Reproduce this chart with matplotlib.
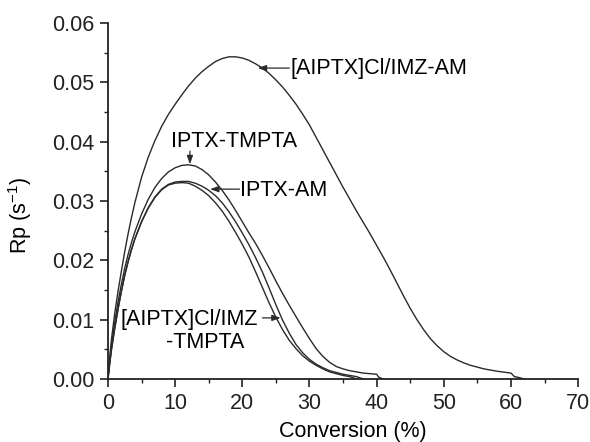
import matplotlib
matplotlib.use('Agg')
import matplotlib.pyplot as plt
from matplotlib.ticker import MultipleLocator

# ── Data ────────────────────────────────────────────────────────────────
imz_am_x = [0, 0.2, 0.5, 1, 1.5, 2, 2.5, 3, 3.5, 4, 5, 6, 7, 8, 9, 10, 11, 12,
            13, 14, 15, 16, 17, 18, 19, 20, 21, 22, 23, 24, 25, 26, 27, 28, 29,
            30, 31, 32, 33, 34, 35, 36, 37, 38, 39, 40, 41, 42, 43, 44, 45, 46,
            47, 48, 49, 50, 51, 52, 53, 54, 55, 56, 58, 60, 60.5, 61, 62]
imz_am_y = [0, 0.003, 0.0065, 0.011, 0.0148, 0.0182, 0.0215, 0.0245, 0.0272,
            0.0297, 0.0340, 0.0374, 0.0402, 0.0426, 0.0446, 0.0463, 0.0479,
            0.0494, 0.0507, 0.0518, 0.0527, 0.0535, 0.0540, 0.0543, 0.0543,
            0.0541, 0.0537, 0.0531, 0.0524, 0.0515, 0.0504, 0.0492, 0.0478,
            0.0463, 0.0446, 0.0428, 0.0407, 0.0386, 0.0365, 0.0344, 0.0323,
            0.0303, 0.0283, 0.0264, 0.0245, 0.0225, 0.0205, 0.0184, 0.0162,
            0.0140, 0.0119, 0.0100, 0.0083, 0.0068, 0.0056, 0.0046, 0.0038,
            0.0032, 0.0027, 0.0023, 0.0020, 0.0017, 0.0013, 0.0010, 0.0004,
            0.0003, 0]

iptx_tmpta_x = [0, 0.2, 0.5, 1, 1.5, 2, 2.5, 3, 3.5, 4, 5, 6, 7, 8, 9, 10, 11,
                12, 13, 14, 15, 16, 17, 18, 19, 20, 21, 22, 23, 24, 25, 26, 27,
                28, 29, 30, 31, 32, 33, 34, 35, 36, 37, 38, 39, 40, 40.3, 41]
iptx_tmpta_y = [0, 0.0025, 0.0055, 0.0095, 0.013, 0.016, 0.0187, 0.021, 0.0230,
                0.0248, 0.0278, 0.0303, 0.0323, 0.0338, 0.0349, 0.0356, 0.0360,
                0.0361, 0.0359, 0.0353, 0.0344, 0.0332, 0.0318, 0.0302, 0.0284,
                0.0265, 0.0246, 0.0228, 0.0208, 0.0187, 0.0165, 0.0144, 0.0124,
                0.0105, 0.0086, 0.0068, 0.0051, 0.0038, 0.0028, 0.0021, 0.0017,
                0.0014, 0.0012, 0.0010, 0.0009, 0.0008, 0.0003, 0]

iptx_am_x = [0, 0.2, 0.5, 1, 1.5, 2, 2.5, 3, 3.5, 4, 5, 6, 7, 8, 9, 10, 11, 12,
             13, 14, 15, 16, 17, 18, 19, 20, 21, 22, 23, 24, 25, 26, 27, 28, 29,
             30, 31, 32, 33, 34, 35, 36, 37, 38]
iptx_am_y = [0, 0.002, 0.0048, 0.0085, 0.0118, 0.0148, 0.0175, 0.0198, 0.0218,
             0.0236, 0.0265, 0.0289, 0.0307, 0.0320, 0.0328, 0.0332, 0.0333,
             0.0333, 0.0330, 0.0325, 0.0318, 0.0309, 0.0297, 0.0282, 0.0265,
             0.0246, 0.0226, 0.0204, 0.0180, 0.0153, 0.0125, 0.0099, 0.0077,
             0.0058, 0.0044, 0.0033, 0.0025, 0.0019, 0.0014, 0.0011, 0.0008,
             0.0006, 0.0004, 0]

imz_tmpta_x = [0, 0.2, 0.5, 1, 1.5, 2, 2.5, 3, 3.5, 4, 5, 6, 7, 8, 9, 10, 11, 12,
               13, 14, 15, 16, 17, 18, 19, 20, 21, 22, 23, 24, 25, 26, 27, 28,
               29, 30, 31, 32, 33, 34, 35, 36, 37]
imz_tmpta_y = [0, 0.002, 0.0048, 0.0085, 0.0118, 0.0148, 0.0175, 0.0198, 0.0218,
               0.0236, 0.0265, 0.0288, 0.0306, 0.0319, 0.0327, 0.0330, 0.0331,
               0.0330, 0.0325, 0.0318, 0.0309, 0.0297, 0.0283, 0.0266, 0.0247,
               0.0227, 0.0205, 0.0180, 0.0154, 0.0128, 0.0104, 0.0083, 0.0065,
               0.0051, 0.0039, 0.0030, 0.0023, 0.0017, 0.0012, 0.0009, 0.0006,
               0.0004, 0]

plt.rcParams['font.family'] = ['Liberation Sans', 'DejaVu Sans']
plt.rcParams['mathtext.default'] = 'regular'
FS = 15.5
LINE = '#2a2a2a'

fig = plt.figure(figsize=(5.9, 4.42), dpi=100)
ax = fig.add_axes([0.183, 0.1425, 0.797, 0.8055])

for xs, ys in [(imz_am_x, imz_am_y), (iptx_tmpta_x, iptx_tmpta_y),
               (iptx_am_x, iptx_am_y), (imz_tmpta_x, imz_tmpta_y)]:
    ax.plot(xs, ys, color=LINE, lw=1.0)

ax.set_xlim(0, 70)
ax.set_ylim(0, 0.06)
ax.xaxis.set_major_locator(MultipleLocator(10))
ax.xaxis.set_minor_locator(MultipleLocator(5))
ax.yaxis.set_major_locator(MultipleLocator(0.01))
ax.yaxis.set_minor_locator(MultipleLocator(0.005))
ax.yaxis.set_major_formatter(lambda v, p: f'{v:.2f}')

for side in ['top', 'right']:
    ax.spines[side].set_visible(False)
for side in ['left', 'bottom']:
    ax.spines[side].set_linewidth(1.3)
    ax.spines[side].set_color('#222222')
ax.tick_params(which='major', length=6, width=1.2, labelsize=FS, pad=4, colors='#222222')
ax.tick_params(which='minor', length=3, width=1.0, colors='#222222')

ax.set_xlabel('Conversion (%)', fontsize=FS)
ax.set_ylabel('Rp (s$^{-1}$)', fontsize=FS)
ax.xaxis.set_label_coords(0.52, -0.118)
ax.yaxis.set_label_coords(-0.157, 0.46)

# ── Labels with arrows ──
arrow = dict(arrowstyle='-|>,head_length=0.5,head_width=0.18', color=LINE, lw=0.9,
             shrinkA=0, shrinkB=0)
ax.text(27.1, 0.0524, '[AIPTX]Cl/IMZ-AM', fontsize=FS, ha='left', va='center')
ax.annotate('', xy=(22.3, 0.0524), xytext=(27.0, 0.0524), arrowprops=arrow)

ax.text(18.75, 0.0400, 'IPTX-TMPTA', fontsize=FS, ha='center', va='center')
ax.annotate('', xy=(12.2, 0.0362), xytext=(12.2, 0.0384), arrowprops=arrow)

ax.text(19.6, 0.0317, 'IPTX-AM', fontsize=FS, ha='left', va='center')
ax.annotate('', xy=(15.2, 0.0320), xytext=(19.6, 0.0320), arrowprops=arrow)

ax.text(1.8, 0.0100, '[AIPTX]Cl/IMZ', fontsize=FS, ha='left', va='center')
ax.text(14.4, 0.0062, '-TMPTA', fontsize=FS, ha='center', va='center')
ax.annotate('', xy=(25.7, 0.0103), xytext=(23.0, 0.0103), arrowprops=arrow)

fig.savefig('out.png', dpi=100)
